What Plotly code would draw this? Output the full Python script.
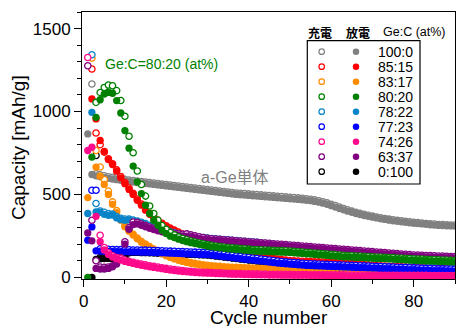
import plotly.graph_objects as go

# ---------------- data ----------------
series_names = ["100:0", "85:15", "83:17", "80:20", "78:22", "77:23", "74:26", "63:37", "0:100"]
series_colors = ["#808080", "#ff0000", "#ff8c00", "#008000", "#0a84c8", "#0000ff", "#ff0a8c", "#800080", "#000000"]

gray_charge = [None,1166,625,618,612,607,603,599,595,591,
               587,584,581,578,575,572,569,566,563,560,
               557,554,551,548,545,542,539,536,533,530,
               527,524,521,518,515,512,509,507,505,503,
               501,499,497,495,493,491,489,487,485,483,
               481,479,477,474,471,467,462,456,449,441,
               433,424,415,407,399,392,386,380,374,369,
               364,359,355,351,347,344,341,338,335,332,
               330,328,325,323,321,319,318,317,316,315]
gray_discharge = [865,620,612,606,601,597,593,589,585,581,
                  578,575,572,569,566,563,560,557,554,551,
                  548,545,542,539,536,533,530,527,524,521,
                  518,515,512,509,506,503,500,498,496,494,
                  492,490,488,486,484,482,480,478,476,474,
                  472,470,468,465,462,458,453,447,440,432,
                  424,415,407,399,392,385,379,373,368,363,
                  358,353,349,345,341,338,335,332,329,326,
                  324,322,320,317,315,313,312,311,310,309]

red_charge = [None,1256,870,800,755,715,685,648,608,572,
              538,507,472,442,412,386,364,344,326,311,
              297,285,273,261,250,239,229,219,210,202,
              194,187,180,173,167,161,155,150,145,140,
              135,131,127,123,119,115,111,108,105,102,
              100,98,97,96,95,94,93,92,91,90,
              89,88,87,85,83,81,79,77,75,73,
              71,69,68,67,66,65,64,63,62,61,
              60,59,58,57,57,56,56,55,55,54]
red_discharge = [None,1076,955,825,760,710,680,640,600,565,
                 530,500,465,435,405,380,358,338,320,305,
                 292,280,268,256,245,234,224,214,205,197,
                 189,182,175,168,162,156,150,145,140,135,
                 130,126,122,118,114,110,106,103,100,97,
                 95,93,92,91,90,89,88,87,86,85,
                 84,83,82,80,78,76,74,72,70,68,
                 66,64,63,62,61,60,59,58,57,56,
                 55,54,53,52,52,51,51,50,50,49]

orange_charge = [None,1322,765,665,590,520,455,402,352,312,
                 283,260,237,217,200,185,170,157,145,134,
                 124,115,107,100,94,89,84,80,76,73,
                 70,68,66,64,62,61,60,59,58,57,
                 56,55,54,53,52,51,50,49,48,47,
                 46,44,42,40,38,36,35,34,33,32,
                 31,31,30,30,29,29,28,28,27,27,
                 26,26,26,25,25,25,24,24,24,24,
                 23,23,23,23,22,22,22,22,22,22]
orange_discharge = [481,None,665,610,560,500,440,390,345,305,
                    278,255,232,212,195,180,166,153,141,130,
                    120,111,103,96,90,85,80,76,72,69,
                    66,64,62,60,58,57,56,55,54,53,
                    52,51,50,49,48,47,46,45,44,43,
                    42,40,38,36,34,32,31,30,29,28,
                    27,27,26,26,25,25,24,24,23,23,
                    22,22,22,21,21,21,20,20,20,20,
                    19,19,19,19,18,18,18,18,18,18]

green_charge = [None,None,1055,1115,1145,1160,1155,1126,1066,971,
                851,751,641,560,490,430,385,345,312,290,
                270,256,244,234,226,219,213,207,202,197,
                193,189,186,183,180,178,176,174,172,170,
                168,167,166,165,164,163,162,161,160,159,
                157,155,153,151,149,147,145,143,141,139,
                137,135,133,132,131,129,128,127,125,124,
                123,122,121,120,119,117,116,115,113,112,
                111,110,109,108,107,106,105,104,103,102]
green_discharge = [0,725,965,1071,1105,1115,1110,1066,991,885,
                   779,671,575,505,435,385,344,314,284,264,
                   248,240,230,222,215,209,204,199,194,189,
                   184,181,178,175,172,170,168,166,164,162,
                   159,158,157,156,155,154,153,152,151,150,
                   148,146,144,142,140,138,136,134,132,130,
                   128,126,124,123,122,120,119,118,116,115,
                   114,113,112,111,110,108,107,106,104,103,
                   102,101,100,99,98,97,96,95,94,93]

teal_charge = [None,1342,445,400,392,384,382,366,356,352,
               352,346,340,332,324,314,304,296,288,281,
               274,268,263,258,254,250,246,243,240,237,
               234,232,230,228,226,224,222,220,218,216,
               214,212,209,206,203,199,195,191,187,183,
               179,175,171,167,163,160,157,154,151,148,
               146,144,142,140,138,136,134,132,130,128,
               126,124,122,120,118,116,114,112,110,108,
               106,105,104,103,102,101,100,99,98,97]
teal_discharge = [385,995,394,392,380,374,376,358,348,344,
                  346,340,334,326,318,308,298,290,282,275,
                  268,262,257,252,248,244,240,237,234,231,
                  228,226,224,222,220,218,216,214,212,210,
                  208,206,203,200,197,193,189,185,181,177,
                  173,169,165,161,157,154,151,148,145,142,
                  140,138,136,134,132,130,128,126,124,122,
                  120,118,116,114,112,110,108,106,104,102,
                  100,99,98,97,96,95,94,93,92,91]

blue_charge = [None,525,525,172,170,169,168,167,167,166,
               166,165,165,164,164,163,162,161,160,159,
               158,157,156,155,154,153,152,151,150,149,
               146,143,140,137,134,131,128,125,122,119,
               116,113,110,107,104,101,98,95,93,91,
               89,87,85,83,82,81,80,79,78,77,
               76,75,74,73,72,71,70,69,68,67,
               66,65,64,63,62,61,60,59,58,57,
               56,55,54,53,52,51,51,50,50,49]
blue_discharge = [224,304,160,158,157,156,156,155,155,154,
                  154,153,153,152,152,151,150,149,148,147,
                  146,145,144,143,142,141,140,139,138,137,
                  134,131,128,125,122,119,116,113,110,107,
                  104,101,98,95,92,89,86,84,82,80,
                  78,76,74,72,71,70,69,68,67,66,
                  65,64,63,62,61,60,59,58,57,56,
                  55,54,53,52,51,50,49,48,47,46,
                  45,44,43,42,41,40,40,39,39,38]

pink_charge = [1326,None,None,254,180,148,130,120,112,104,
               97,91,85,80,75,70,66,62,58,54,
               50,47,44,41,38,36,34,32,31,30,
               29,28,27,26,25,24,23,23,22,22,
               21,21,20,20,19,19,19,18,18,18,
               17,17,17,17,16,16,16,16,15,15,
               15,15,15,14,14,14,14,14,13,13,
               13,13,13,13,13,12,12,12,12,12,
               12,12,12,11,11,11,11,11,11,11]
pink_discharge = [765,785,368,215,165,138,122,112,104,96,
                  90,84,78,73,68,64,60,56,52,48,
                  44,41,38,35,33,31,29,27,26,25,
                  24,23,22,21,20,19,18,18,17,17,
                  16,16,15,15,14,14,14,13,13,13,
                  12,12,12,12,11,11,11,11,10,10,
                  10,10,10,9,9,9,9,9,8,8,
                  8,8,8,8,8,7,7,7,7,7,
                  7,7,7,6,6,6,6,6,6,6]

purple_charge = [1276,344,100,62,60,62,70,88,120,215,
                 300,334,332,322,313,304,296,289,283,277,
                 271,266,262,260,262,256,250,245,240,236,
                 233,231,229,227,225,223,221,219,217,215,
                 213,211,209,207,205,203,201,199,197,195,
                 193,191,189,187,185,183,181,179,177,175,
                 173,171,169,167,165,163,161,159,157,155,
                 153,151,149,147,145,143,141,139,137,135,
                 134,133,132,131,130,129,128,127,126,125]
purple_discharge = [268,220,54,50,50,54,64,80,110,200,
                    290,318,322,314,305,296,288,281,275,269,
                    263,258,253,250,248,245,240,235,231,228,
                    225,223,221,219,217,215,213,211,209,207,
                    205,203,201,199,197,195,193,191,189,187,
                    185,183,181,179,177,175,173,171,169,167,
                    165,163,161,159,157,155,153,151,149,147,
                    145,143,141,139,137,135,133,131,129,127,
                    126,125,124,123,122,121,120,119,118,117]

black_charge = [None,None,735,120,120,120,120,120,120,120,
                150,152,152,151,151,150,149,148,147,146,
                145,144,143,142,141,140,139,138,137,136,
                133,130,127,124,121,118,115,112,109,106,
                103,100,97,94,91,88,85,83,81,79,
                77,75,73,71,70,69,68,67,66,65,
                64,63,62,61,60,59,58,57,56,55,
                54,53,52,51,50,49,48,47,46,45,
                44,43,42,41,40,39,39,38,38,37]
black_discharge = [None,0,108,112,113,114,114,114,114,114,
                   148,150,150,149,149,148,147,146,145,144,
                   143,142,141,140,139,138,137,136,135,134,
                   131,128,125,122,119,116,113,110,107,104,
                   101,98,95,92,89,86,83,81,79,77,
                   75,73,71,69,68,67,66,65,64,63,
                   62,61,60,59,58,57,56,55,54,53,
                   52,51,50,49,48,47,46,45,44,43,
                   42,41,40,39,38,37,37,36,36,35]

charge_data = [gray_charge, red_charge, orange_charge, green_charge, teal_charge,
               blue_charge, pink_charge, purple_charge, black_charge]
discharge_data = [gray_discharge, red_discharge, orange_discharge, green_discharge, teal_discharge,
                  blue_discharge, pink_discharge, purple_discharge, black_discharge]

# drawing order (bottom -> top)
draw_order = [8, 0, 1, 2, 4, 5, 7, 3, 6]

# ---------------- figure ----------------
W, H = 456, 326
ML, MR, MT, MB = 82, 1, 12, 47
FONT = "Liberation Sans, Arial, Noto Sans CJK JP, sans-serif"
CJK = "Noto Sans CJK JP, sans-serif"


def px_to_paper_x(px):
    return (px - ML) / (W - ML - MR)


def px_to_paper_y(py):
    return (H - MB - py) / (H - MB - MT)


fig = go.Figure()
for i in draw_order:
    col = series_colors[i]
    ch = charge_data[i]
    dc = discharge_data[i]
    fig.add_trace(go.Scatter(
        x=list(range(1, len(ch) + 1)), y=ch, mode="markers",
        marker=dict(symbol="circle", size=6.3, color="white",
                    line=dict(color=col, width=1.3)),
        showlegend=False, hoverinfo="skip"))
    fig.add_trace(go.Scatter(
        x=list(range(1, len(dc) + 1)), y=dc, mode="markers",
        marker=dict(symbol="circle", size=7.3, color=col, line=dict(width=0)),
        showlegend=False, hoverinfo="skip"))

# ---- custom legend on an overlay axis in pixel units ----
leg_open_x, leg_fill_x, leg_text_x = 321.7, 356, 376
leg_y0, leg_dy = 51.7, 15
leg_rows = [leg_y0 + k * leg_dy for k in range(len(series_names))]
fig.add_trace(go.Scatter(
    x=[leg_open_x] * len(series_names), y=leg_rows, mode="markers",
    marker=dict(symbol="circle", size=5.5, color="white",
                line=dict(color=series_colors, width=1.2)),
    xaxis="x2", yaxis="y2", showlegend=False, hoverinfo="skip"))
fig.add_trace(go.Scatter(
    x=[leg_fill_x] * len(series_names), y=leg_rows, mode="markers",
    marker=dict(symbol="circle", size=6.5, color=series_colors, line=dict(width=0)),
    xaxis="x2", yaxis="y2", showlegend=False, hoverinfo="skip"))

annotations = []
for k, name in enumerate(series_names):
    annotations.append(dict(x=leg_text_x, y=leg_rows[k], xref="x2", yref="y2",
                            text=name, showarrow=False, xanchor="left", yanchor="middle",
                            font=dict(family=FONT, size=14, color="black")))
annotations += [
    dict(x=319.5, y=32, xref="x2", yref="y2", text="<b>充電</b>", showarrow=False,
         xanchor="center", yanchor="middle", font=dict(family=CJK, size=12, color="black")),
    dict(x=357.5, y=32, xref="x2", yref="y2", text="<b>放電</b>", showarrow=False,
         xanchor="center", yanchor="middle", font=dict(family=CJK, size=12, color="black")),
    dict(x=414, y=32, xref="x2", yref="y2", text="Ge:C (at%)", showarrow=False,
         xanchor="center", yanchor="middle", font=dict(family=FONT, size=12.5, color="black")),
    dict(x=103, y=63.5, xref="x2", yref="y2", text="Ge:C=80:20 (at%)", showarrow=False,
         xanchor="left", yanchor="middle", font=dict(family=FONT, size=14, color="#008000")),
    dict(x=199, y=177, xref="x2", yref="y2", text="a-Ge単体", showarrow=False,
         xanchor="left", yanchor="middle", font=dict(family=FONT, size=16, color="#808080")),
    # axis titles as paper annotations
    dict(x=px_to_paper_x(269), y=px_to_paper_y(317.5), xref="paper", yref="paper",
         text="Cycle number", showarrow=False, xanchor="center", yanchor="middle",
         font=dict(family=FONT, size=19, color="black")),
    dict(x=px_to_paper_x(18), y=px_to_paper_y(148), xref="paper", yref="paper",
         text="Capacity [mAh/g]", showarrow=False, textangle=-90,
         xanchor="center", yanchor="middle", font=dict(family=FONT, size=19, color="black")),
]

shapes = [dict(type="rect", xref="x2", yref="y2", x0=307.3, x1=420, y0=40.7, y1=184,
               line=dict(color="black", width=1.2), fillcolor="white", layer="below")]

fig.update_layout(
    width=W, height=H,
    margin=dict(l=ML, r=MR, t=MT, b=MB, pad=0),
    paper_bgcolor="white", plot_bgcolor="white",
    font=dict(family=FONT, color="black"),
    annotations=annotations, shapes=shapes,
    xaxis=dict(range=[-0.4, 90], tickvals=[0, 20, 40, 60, 80],
               ticks="outside", ticklen=7, tickwidth=1, tickcolor="black",
               minor=dict(dtick=10, tick0=0, ticks="outside", ticklen=4, tickcolor="black"),
               showline=True, linecolor="black", linewidth=1, mirror=True,
               showgrid=False, zeroline=False, automargin=False,
               tickfont=dict(size=17, family=FONT)),
    yaxis=dict(range=[-10, 1600], tickvals=[0, 500, 1000, 1500],
               ticks="outside", ticklen=7, tickwidth=1, tickcolor="black",
               minor=dict(dtick=100, tick0=0, ticks="outside", ticklen=4, tickcolor="black"),
               showline=True, linecolor="black", linewidth=1, mirror=True,
               showgrid=False, zeroline=False, automargin=False,
               tickfont=dict(size=17, family=FONT)),
    xaxis2=dict(overlaying="x", range=[ML, W - MR], visible=False, anchor="y2", fixedrange=True),
    yaxis2=dict(overlaying="y", range=[H - MB, MT], visible=False, anchor="x2", fixedrange=True),
)

fig.write_html("out.html")
